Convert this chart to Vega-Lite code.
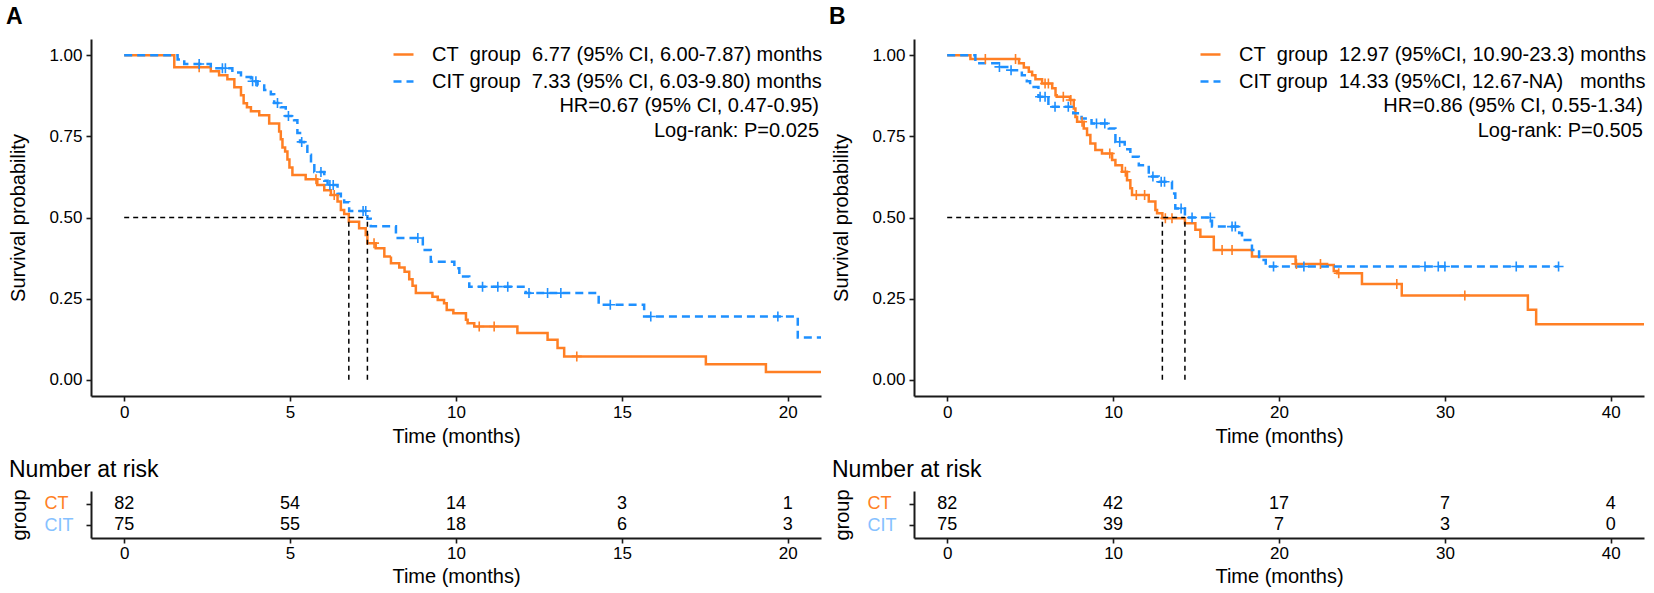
{
"$schema":"https://vega.github.io/schema/vega-lite/v6.json",
"padding":{"left":5,"top":6,"right":0,"bottom":0},
"background":"white",
"config":{"font":"Liberation Sans","view":{"stroke":null},
 "axis":{"grid":false,"domainColor":"#1a1a1a","tickColor":"#1a1a1a","domainWidth":2,"tickWidth":1.6,"tickSize":5,"labelFontSize":17,"titleFontSize":20,"titleFontWeight":"normal","labelColor":"black","titleColor":"black","labelFlush":false,"labelOverlap":false},
 "title":{"color":"black"}},
"datasets":{
"kmA":[
{"t":0,"s":1,"g":"CT","c":0},{"t":1.51,"s":0.963,"g":"CT","c":0},{"t":2.26,"s":0.963,"g":"CT","c":1},{"t":2.61,"s":0.951,"g":"CT","c":0},{"t":2.86,"s":0.938,"g":"CT","c":0},{"t":3.11,"s":0.926,"g":"CT","c":0},{"t":3.32,"s":0.901,"g":"CT","c":0},{"t":3.52,"s":0.877,"g":"CT","c":0},{"t":3.6,"s":0.852,"g":"CT","c":0},{"t":3.7,"s":0.84,"g":"CT","c":0},{"t":3.82,"s":0.827,"g":"CT","c":0},{"t":4.07,"s":0.815,"g":"CT","c":0},{"t":4.37,"s":0.79,"g":"CT","c":0},{"t":4.67,"s":0.765,"g":"CT","c":0},{"t":4.72,"s":0.741,"g":"CT","c":0},{"t":4.77,"s":0.716,"g":"CT","c":0},{"t":4.85,"s":0.703,"g":"CT","c":0},{"t":4.92,"s":0.679,"g":"CT","c":0},{"t":4.98,"s":0.654,"g":"CT","c":0},{"t":5.07,"s":0.631,"g":"CT","c":0},{"t":5.47,"s":0.618,"g":"CT","c":0},{"t":5.78,"s":0.618,"g":"CT","c":1},{"t":5.82,"s":0.6,"g":"CT","c":0},{"t":6.03,"s":0.584,"g":"CT","c":0},{"t":6.23,"s":0.569,"g":"CT","c":0},{"t":6.33,"s":0.569,"g":"CT","c":1},{"t":6.43,"s":0.549,"g":"CT","c":0},{"t":6.53,"s":0.523,"g":"CT","c":0},{"t":6.63,"s":0.511,"g":"CT","c":0},{"t":6.77,"s":0.487,"g":"CT","c":0},{"t":7.08,"s":0.467,"g":"CT","c":0},{"t":7.28,"s":0.446,"g":"CT","c":0},{"t":7.33,"s":0.421,"g":"CT","c":0},{"t":7.53,"s":0.421,"g":"CT","c":1},{"t":7.58,"s":0.405,"g":"CT","c":0},{"t":7.84,"s":0.38,"g":"CT","c":0},{"t":8.04,"s":0.359,"g":"CT","c":0},{"t":8.29,"s":0.346,"g":"CT","c":0},{"t":8.45,"s":0.333,"g":"CT","c":0},{"t":8.59,"s":0.31,"g":"CT","c":0},{"t":8.69,"s":0.29,"g":"CT","c":0},{"t":8.79,"s":0.267,"g":"CT","c":0},{"t":9.29,"s":0.256,"g":"CT","c":0},{"t":9.45,"s":0.246,"g":"CT","c":0},{"t":9.64,"s":0.236,"g":"CT","c":0},{"t":9.72,"s":0.215,"g":"CT","c":0},{"t":9.92,"s":0.205,"g":"CT","c":0},{"t":10.3,"s":0.185,"g":"CT","c":0},{"t":10.35,"s":0.174,"g":"CT","c":0},{"t":10.55,"s":0.164,"g":"CT","c":0},{"t":10.7,"s":0.164,"g":"CT","c":1},{"t":11.15,"s":0.164,"g":"CT","c":1},{"t":11.85,"s":0.144,"g":"CT","c":0},{"t":12.76,"s":0.123,"g":"CT","c":0},{"t":13.06,"s":0.098,"g":"CT","c":0},{"t":13.26,"s":0.072,"g":"CT","c":0},{"t":13.64,"s":0.072,"g":"CT","c":1},{"t":17.53,"s":0.048,"g":"CT","c":0},{"t":19.34,"s":0.024,"g":"CT","c":0},{"t":21,"s":0.024,"g":"CT","c":0},
{"t":0,"s":1,"g":"CIT","c":0},{"t":1.61,"s":0.987,"g":"CIT","c":0},{"t":1.81,"s":0.973,"g":"CIT","c":0},{"t":2.26,"s":0.973,"g":"CIT","c":1},{"t":2.61,"s":0.96,"g":"CIT","c":0},{"t":2.96,"s":0.96,"g":"CIT","c":1},{"t":3.05,"s":0.96,"g":"CIT","c":1},{"t":3.26,"s":0.947,"g":"CIT","c":0},{"t":3.52,"s":0.933,"g":"CIT","c":0},{"t":3.82,"s":0.92,"g":"CIT","c":0},{"t":3.87,"s":0.92,"g":"CIT","c":1},{"t":3.97,"s":0.92,"g":"CIT","c":1},{"t":4.02,"s":0.907,"g":"CIT","c":0},{"t":4.22,"s":0.893,"g":"CIT","c":0},{"t":4.42,"s":0.88,"g":"CIT","c":0},{"t":4.52,"s":0.853,"g":"CIT","c":0},{"t":4.62,"s":0.853,"g":"CIT","c":1},{"t":4.72,"s":0.84,"g":"CIT","c":0},{"t":4.87,"s":0.813,"g":"CIT","c":0},{"t":4.95,"s":0.813,"g":"CIT","c":1},{"t":5.12,"s":0.8,"g":"CIT","c":0},{"t":5.22,"s":0.76,"g":"CIT","c":0},{"t":5.3,"s":0.733,"g":"CIT","c":0},{"t":5.35,"s":0.733,"g":"CIT","c":1},{"t":5.42,"s":0.72,"g":"CIT","c":0},{"t":5.52,"s":0.693,"g":"CIT","c":0},{"t":5.63,"s":0.667,"g":"CIT","c":0},{"t":5.73,"s":0.64,"g":"CIT","c":0},{"t":5.93,"s":0.64,"g":"CIT","c":1},{"t":6.03,"s":0.613,"g":"CIT","c":0},{"t":6.13,"s":0.6,"g":"CIT","c":0},{"t":6.2,"s":0.6,"g":"CIT","c":1},{"t":6.3,"s":0.6,"g":"CIT","c":1},{"t":6.43,"s":0.573,"g":"CIT","c":0},{"t":6.53,"s":0.56,"g":"CIT","c":0},{"t":6.63,"s":0.547,"g":"CIT","c":0},{"t":6.78,"s":0.52,"g":"CIT","c":0},{"t":7.2,"s":0.52,"g":"CIT","c":1},{"t":7.28,"s":0.52,"g":"CIT","c":1},{"t":7.33,"s":0.496,"g":"CIT","c":0},{"t":7.43,"s":0.473,"g":"CIT","c":0},{"t":8.19,"s":0.437,"g":"CIT","c":0},{"t":8.85,"s":0.437,"g":"CIT","c":1},{"t":9.0,"s":0.4,"g":"CIT","c":0},{"t":9.24,"s":0.364,"g":"CIT","c":0},{"t":9.95,"s":0.344,"g":"CIT","c":0},{"t":10.1,"s":0.318,"g":"CIT","c":0},{"t":10.4,"s":0.287,"g":"CIT","c":0},{"t":10.8,"s":0.287,"g":"CIT","c":1},{"t":11.26,"s":0.287,"g":"CIT","c":1},{"t":11.56,"s":0.287,"g":"CIT","c":1},{"t":12.1,"s":0.267,"g":"CIT","c":0},{"t":12.2,"s":0.267,"g":"CIT","c":1},{"t":12.76,"s":0.267,"g":"CIT","c":1},{"t":13.16,"s":0.267,"g":"CIT","c":1},{"t":14.3,"s":0.231,"g":"CIT","c":0},{"t":14.65,"s":0.231,"g":"CIT","c":1},{"t":15.67,"s":0.195,"g":"CIT","c":0},{"t":15.87,"s":0.195,"g":"CIT","c":1},{"t":19.7,"s":0.195,"g":"CIT","c":1},{"t":20.3,"s":0.13,"g":"CIT","c":0},{"t":21,"s":0.13,"g":"CIT","c":0}
],
"kmB":[
{"t":0,"s":1,"g":"CT","c":0},{"t":1.4,"s":0.988,"g":"CT","c":0},{"t":2.3,"s":0.988,"g":"CT","c":1},{"t":4.12,"s":0.988,"g":"CT","c":1},{"t":4.33,"s":0.975,"g":"CT","c":0},{"t":4.62,"s":0.962,"g":"CT","c":0},{"t":4.92,"s":0.949,"g":"CT","c":0},{"t":5.12,"s":0.938,"g":"CT","c":0},{"t":5.32,"s":0.926,"g":"CT","c":0},{"t":5.72,"s":0.913,"g":"CT","c":0},{"t":5.9,"s":0.913,"g":"CT","c":1},{"t":6.1,"s":0.913,"g":"CT","c":1},{"t":6.33,"s":0.898,"g":"CT","c":0},{"t":6.53,"s":0.877,"g":"CT","c":0},{"t":6.6,"s":0.872,"g":"CT","c":0},{"t":7.0,"s":0.872,"g":"CT","c":1},{"t":7.4,"s":0.862,"g":"CT","c":0},{"t":7.45,"s":0.862,"g":"CT","c":1},{"t":7.63,"s":0.836,"g":"CT","c":0},{"t":7.73,"s":0.81,"g":"CT","c":0},{"t":7.83,"s":0.795,"g":"CT","c":0},{"t":8.13,"s":0.795,"g":"CT","c":1},{"t":8.23,"s":0.774,"g":"CT","c":0},{"t":8.43,"s":0.754,"g":"CT","c":0},{"t":8.63,"s":0.728,"g":"CT","c":0},{"t":8.93,"s":0.708,"g":"CT","c":0},{"t":9.33,"s":0.697,"g":"CT","c":0},{"t":9.8,"s":0.697,"g":"CT","c":1},{"t":9.94,"s":0.677,"g":"CT","c":0},{"t":10.14,"s":0.661,"g":"CT","c":0},{"t":10.54,"s":0.641,"g":"CT","c":0},{"t":10.74,"s":0.641,"g":"CT","c":1},{"t":10.84,"s":0.615,"g":"CT","c":0},{"t":11.04,"s":0.59,"g":"CT","c":0},{"t":11.14,"s":0.569,"g":"CT","c":0},{"t":11.4,"s":0.569,"g":"CT","c":1},{"t":11.9,"s":0.569,"g":"CT","c":1},{"t":12.15,"s":0.549,"g":"CT","c":0},{"t":12.55,"s":0.523,"g":"CT","c":0},{"t":12.65,"s":0.513,"g":"CT","c":0},{"t":12.97,"s":0.498,"g":"CT","c":0},{"t":13.15,"s":0.498,"g":"CT","c":1},{"t":13.55,"s":0.498,"g":"CT","c":1},{"t":14.33,"s":0.482,"g":"CT","c":0},{"t":14.96,"s":0.462,"g":"CT","c":0},{"t":15.26,"s":0.441,"g":"CT","c":0},{"t":16.07,"s":0.4,"g":"CT","c":0},{"t":16.57,"s":0.4,"g":"CT","c":1},{"t":17.17,"s":0.4,"g":"CT","c":1},{"t":18.37,"s":0.38,"g":"CT","c":0},{"t":21.0,"s":0.357,"g":"CT","c":0},{"t":21.05,"s":0.357,"g":"CT","c":1},{"t":22.5,"s":0.357,"g":"CT","c":1},{"t":22.9,"s":0.354,"g":"CT","c":0},{"t":23.3,"s":0.335,"g":"CT","c":0},{"t":23.5,"s":0.328,"g":"CT","c":0},{"t":23.6,"s":0.328,"g":"CT","c":1},{"t":25.0,"s":0.295,"g":"CT","c":0},{"t":27.1,"s":0.295,"g":"CT","c":1},{"t":27.4,"s":0.26,"g":"CT","c":0},{"t":31.2,"s":0.26,"g":"CT","c":1},{"t":35.0,"s":0.216,"g":"CT","c":0},{"t":35.5,"s":0.171,"g":"CT","c":0},{"t":42,"s":0.171,"g":"CT","c":0},
{"t":0,"s":1,"g":"CIT","c":0},{"t":1.7,"s":0.975,"g":"CIT","c":0},{"t":3.1,"s":0.964,"g":"CIT","c":0},{"t":3.15,"s":0.964,"g":"CIT","c":1},{"t":3.8,"s":0.954,"g":"CIT","c":0},{"t":3.85,"s":0.954,"g":"CIT","c":1},{"t":4.5,"s":0.938,"g":"CIT","c":0},{"t":4.8,"s":0.92,"g":"CIT","c":0},{"t":5.0,"s":0.902,"g":"CIT","c":0},{"t":5.5,"s":0.872,"g":"CIT","c":0},{"t":5.6,"s":0.872,"g":"CIT","c":1},{"t":5.9,"s":0.872,"g":"CIT","c":1},{"t":6.1,"s":0.846,"g":"CIT","c":0},{"t":6.2,"s":0.841,"g":"CIT","c":0},{"t":6.5,"s":0.841,"g":"CIT","c":1},{"t":7.3,"s":0.841,"g":"CIT","c":1},{"t":7.6,"s":0.821,"g":"CIT","c":0},{"t":8.1,"s":0.805,"g":"CIT","c":0},{"t":8.7,"s":0.79,"g":"CIT","c":0},{"t":9.0,"s":0.79,"g":"CIT","c":1},{"t":9.5,"s":0.79,"g":"CIT","c":1},{"t":9.74,"s":0.774,"g":"CIT","c":0},{"t":10.14,"s":0.733,"g":"CIT","c":0},{"t":10.4,"s":0.733,"g":"CIT","c":1},{"t":10.7,"s":0.71,"g":"CIT","c":0},{"t":11.04,"s":0.687,"g":"CIT","c":0},{"t":11.55,"s":0.661,"g":"CIT","c":0},{"t":12.15,"s":0.626,"g":"CIT","c":0},{"t":12.4,"s":0.626,"g":"CIT","c":1},{"t":12.75,"s":0.61,"g":"CIT","c":0},{"t":12.9,"s":0.61,"g":"CIT","c":1},{"t":13.1,"s":0.61,"g":"CIT","c":1},{"t":13.55,"s":0.574,"g":"CIT","c":0},{"t":13.75,"s":0.528,"g":"CIT","c":0},{"t":14.1,"s":0.528,"g":"CIT","c":1},{"t":14.33,"s":0.5,"g":"CIT","c":0},{"t":14.76,"s":0.5,"g":"CIT","c":1},{"t":15.86,"s":0.5,"g":"CIT","c":1},{"t":15.96,"s":0.472,"g":"CIT","c":0},{"t":17.17,"s":0.472,"g":"CIT","c":1},{"t":17.37,"s":0.472,"g":"CIT","c":1},{"t":17.6,"s":0.452,"g":"CIT","c":0},{"t":17.77,"s":0.431,"g":"CIT","c":0},{"t":18.37,"s":0.4,"g":"CIT","c":0},{"t":18.8,"s":0.369,"g":"CIT","c":0},{"t":19.2,"s":0.349,"g":"CIT","c":0},{"t":19.67,"s":0.349,"g":"CIT","c":1},{"t":21.5,"s":0.349,"g":"CIT","c":1},{"t":28.8,"s":0.349,"g":"CIT","c":1},{"t":29.6,"s":0.349,"g":"CIT","c":1},{"t":30.0,"s":0.349,"g":"CIT","c":1},{"t":34.3,"s":0.349,"g":"CIT","c":1},{"t":36.85,"s":0.349,"g":"CIT","c":1}
],
"medA":[{"t":0,"t2":7.33,"s":0.5,"s2":0.5},{"t":6.77,"t2":6.77,"s":0,"s2":0.5},{"t":7.33,"t2":7.33,"s":0,"s2":0.5}],
"medB":[{"t":0,"t2":14.33,"s":0.5,"s2":0.5},{"t":12.97,"t2":12.97,"s":0,"s2":0.5},{"t":14.33,"t2":14.33,"s":0,"s2":0.5}],
"annA":[{"t":20.94,"s":0.845,"label":"HR=0.67 (95% CI, 0.47-0.95)"},{"t":20.94,"s":0.765,"label":"Log-rank: P=0.025"}],
"annB":[{"t":41.93,"s":0.845,"label":"HR=0.86 (95% CI, 0.55-1.34)"},{"t":41.93,"s":0.765,"label":"Log-rank: P=0.505"}],
"riskA":[{"t":0,"g":"CT","n":82},{"t":5,"g":"CT","n":54},{"t":10,"g":"CT","n":14},{"t":15,"g":"CT","n":3},{"t":20,"g":"CT","n":1},{"t":0,"g":"CIT","n":75},{"t":5,"g":"CIT","n":55},{"t":10,"g":"CIT","n":18},{"t":15,"g":"CIT","n":6},{"t":20,"g":"CIT","n":3}],
"riskB":[{"t":0,"g":"CT","n":82},{"t":10,"g":"CT","n":42},{"t":20,"g":"CT","n":17},{"t":30,"g":"CT","n":7},{"t":40,"g":"CT","n":4},{"t":0,"g":"CIT","n":75},{"t":10,"g":"CIT","n":39},{"t":20,"g":"CIT","n":7},{"t":30,"g":"CIT","n":3},{"t":40,"g":"CIT","n":0}]
},
"spacing":5,
"resolve":{"scale":{"color":"independent","strokeDash":"independent","stroke":"independent"},"legend":{"color":"independent","strokeDash":"independent","stroke":"independent"}},
"hconcat":[
{"title":{"text":"A","anchor":"start","frame":"bounds","fontSize":23,"fontWeight":"bold","baseline":"top","offset":10,"dx":-3},
 "spacing":12,
 "vconcat":[
 {"width":730,"height":357,
  "layer":[
   {"data":{"name":"kmA"},"mark":{"type":"line","interpolate":"step-after","strokeWidth":2.5,"clip":true},
    "encoding":{
     "x":{"field":"t","type":"quantitative","scale":{"domain":[-1,21],"nice":false,"zero":false},"axis":{"values":[0,5,10,15,20],"title":"Time (months)","labelPadding":3,"titlePadding":6}},
     "y":{"field":"s","type":"quantitative","scale":{"domain":[-0.05,1.05],"nice":false,"zero":false},"axis":{"values":[0,0.25,0.5,0.75,1],"format":".2f","title":"Survival probability","labelPadding":4,"titlePadding":20}},
     "color":{"field":"g","type":"nominal","scale":{"domain":["CT","CIT"],"range":["#FF7F24","#1E90FF"]},
      "legend":{"orient":"none","legendX":301,"legendY":4,"title":null,"symbolType":"stroke","symbolSize":400,"symbolStrokeWidth":2.5,"labelFontSize":20,"labelColor":"black","labelOffset":17,"rowPadding":5,"padding":0,"labelLimit":1000,
       "labelExpr":"datum.label === 'CT' ? 'CT\u00a0\u00a0group\u00a0\u00a06.77 (95% CI, 6.00-7.87) months' : 'CIT group\u00a0\u00a07.33 (95% CI, 6.03-9.80) months'"}},
     "strokeDash":{"field":"g","type":"nominal","scale":{"domain":["CT","CIT"],"range":[[1,0],[8,5]]},
      "legend":{"orient":"none","legendX":301,"legendY":4,"title":null,"symbolType":"stroke","symbolSize":400,"symbolStrokeWidth":2.5,"labelFontSize":20,"labelColor":"black","labelOffset":17,"rowPadding":5,"padding":0,"labelLimit":1000,
       "labelExpr":"datum.label === 'CT' ? 'CT\u00a0\u00a0group\u00a0\u00a06.77 (95% CI, 6.00-7.87) months' : 'CIT group\u00a0\u00a07.33 (95% CI, 6.03-9.80) months'"}}
    }},
   {"data":{"name":"kmA"},"transform":[{"filter":"datum.c == 1"}],"mark":{"type":"point","shape":"M-1,0H1M0,-1V1","filled":false,"size":100,"strokeWidth":1.6,"opacity":1},
    "encoding":{
     "x":{"field":"t","type":"quantitative","scale":{"domain":[-1,21],"nice":false,"zero":false}},
     "y":{"field":"s","type":"quantitative","scale":{"domain":[-0.05,1.05],"nice":false,"zero":false}},
     "stroke":{"field":"g","type":"nominal","scale":{"domain":["CT","CIT"],"range":["#FF7F24","#1E90FF"]},"legend":null}}},
   {"data":{"name":"medA"},"mark":{"type":"rule","strokeDash":[5,4],"strokeWidth":1.5,"color":"black"},
    "encoding":{
     "x":{"field":"t","type":"quantitative","scale":{"domain":[-1,21],"nice":false,"zero":false}},"x2":{"field":"t2"},
     "y":{"field":"s","type":"quantitative","scale":{"domain":[-0.05,1.05],"nice":false,"zero":false}},"y2":{"field":"s2"}}},
   {"data":{"name":"annA"},"mark":{"type":"text","align":"right","baseline":"middle","fontSize":20,"color":"black"},
    "encoding":{
     "x":{"field":"t","type":"quantitative","scale":{"domain":[-1,21],"nice":false,"zero":false}},
     "y":{"field":"s","type":"quantitative","scale":{"domain":[-0.05,1.05],"nice":false,"zero":false}},
     "text":{"field":"label","type":"nominal"}}}
  ]},
 {"width":730,"height":47,
  "title":{"text":"Number at risk","anchor":"start","fontSize":23,"fontWeight":"normal","baseline":"top","offset":7},
  "data":{"name":"riskA"},
  "mark":{"type":"text","fontSize":18,"color":"black","baseline":"middle"},
  "encoding":{
   "x":{"field":"t","type":"quantitative","scale":{"domain":[-1,21],"nice":false,"zero":false},"axis":{"values":[0,5,10,15,20],"title":"Time (months)","labelPadding":2.5,"titlePadding":5}},
   "y":{"field":"g","type":"nominal","scale":{"type":"point","domain":["CT","CIT"],"padding":0.57},"axis":{"title":"group","labelAlign":"left","labelPadding":42,"titlePadding":15,"labelFontSize":18,"labelColor":{"condition":{"test":"datum.value === 'CT'","value":"#FF7F24"},"value":"#86C1FF"}}},
   "text":{"field":"n","type":"quantitative"}
  }}
 ]},
{"title":{"text":"B","anchor":"start","frame":"bounds","fontSize":23,"fontWeight":"bold","baseline":"top","offset":10,"dx":-3},
 "spacing":12,
 "vconcat":[
 {"width":730,"height":357,
  "layer":[
   {"data":{"name":"kmB"},"mark":{"type":"line","interpolate":"step-after","strokeWidth":2.5,"clip":true},
    "encoding":{
     "x":{"field":"t","type":"quantitative","scale":{"domain":[-2,42],"nice":false,"zero":false},"axis":{"values":[0,10,20,30,40],"title":"Time (months)","labelPadding":3,"titlePadding":6}},
     "y":{"field":"s","type":"quantitative","scale":{"domain":[-0.05,1.05],"nice":false,"zero":false},"axis":{"values":[0,0.25,0.5,0.75,1],"format":".2f","title":"Survival probability","labelPadding":4,"titlePadding":20}},
     "color":{"field":"g","type":"nominal","scale":{"domain":["CT","CIT"],"range":["#FF7F24","#1E90FF"]},
      "legend":{"orient":"none","legendX":285,"legendY":4,"title":null,"symbolType":"stroke","symbolSize":400,"symbolStrokeWidth":2.5,"labelFontSize":20,"labelColor":"black","labelOffset":17,"rowPadding":5,"padding":0,"labelLimit":1000,
       "labelExpr":"datum.label === 'CT' ? 'CT\u00a0\u00a0group\u00a0\u00a012.97 (95%CI, 10.90-23.3) months' : 'CIT group\u00a0\u00a014.33 (95%CI, 12.67-NA)\u00a0\u00a0\u00a0months'"}},
     "strokeDash":{"field":"g","type":"nominal","scale":{"domain":["CT","CIT"],"range":[[1,0],[8,5]]},
      "legend":{"orient":"none","legendX":285,"legendY":4,"title":null,"symbolType":"stroke","symbolSize":400,"symbolStrokeWidth":2.5,"labelFontSize":20,"labelColor":"black","labelOffset":17,"rowPadding":5,"padding":0,"labelLimit":1000,
       "labelExpr":"datum.label === 'CT' ? 'CT\u00a0\u00a0group\u00a0\u00a012.97 (95%CI, 10.90-23.3) months' : 'CIT group\u00a0\u00a014.33 (95%CI, 12.67-NA)\u00a0\u00a0\u00a0months'"}}
    }},
   {"data":{"name":"kmB"},"transform":[{"filter":"datum.c == 1"}],"mark":{"type":"point","shape":"M-1,0H1M0,-1V1","filled":false,"size":100,"strokeWidth":1.6,"opacity":1},
    "encoding":{
     "x":{"field":"t","type":"quantitative","scale":{"domain":[-2,42],"nice":false,"zero":false}},
     "y":{"field":"s","type":"quantitative","scale":{"domain":[-0.05,1.05],"nice":false,"zero":false}},
     "stroke":{"field":"g","type":"nominal","scale":{"domain":["CT","CIT"],"range":["#FF7F24","#1E90FF"]},"legend":null}}},
   {"data":{"name":"medB"},"mark":{"type":"rule","strokeDash":[5,4],"strokeWidth":1.5,"color":"black"},
    "encoding":{
     "x":{"field":"t","type":"quantitative","scale":{"domain":[-2,42],"nice":false,"zero":false}},"x2":{"field":"t2"},
     "y":{"field":"s","type":"quantitative","scale":{"domain":[-0.05,1.05],"nice":false,"zero":false}},"y2":{"field":"s2"}}},
   {"data":{"name":"annB"},"mark":{"type":"text","align":"right","baseline":"middle","fontSize":20,"color":"black"},
    "encoding":{
     "x":{"field":"t","type":"quantitative","scale":{"domain":[-2,42],"nice":false,"zero":false}},
     "y":{"field":"s","type":"quantitative","scale":{"domain":[-0.05,1.05],"nice":false,"zero":false}},
     "text":{"field":"label","type":"nominal"}}}
  ]},
 {"width":730,"height":47,
  "title":{"text":"Number at risk","anchor":"start","fontSize":23,"fontWeight":"normal","baseline":"top","offset":7},
  "data":{"name":"riskB"},
  "mark":{"type":"text","fontSize":18,"color":"black","baseline":"middle"},
  "encoding":{
   "x":{"field":"t","type":"quantitative","scale":{"domain":[-2,42],"nice":false,"zero":false},"axis":{"values":[0,10,20,30,40],"title":"Time (months)","labelPadding":2.5,"titlePadding":5}},
   "y":{"field":"g","type":"nominal","scale":{"type":"point","domain":["CT","CIT"],"padding":0.57},"axis":{"title":"group","labelAlign":"left","labelPadding":42,"titlePadding":15,"labelFontSize":18,"labelColor":{"condition":{"test":"datum.value === 'CT'","value":"#FF7F24"},"value":"#86C1FF"}}},
   "text":{"field":"n","type":"quantitative"}
  }}
 ]}
]
}
